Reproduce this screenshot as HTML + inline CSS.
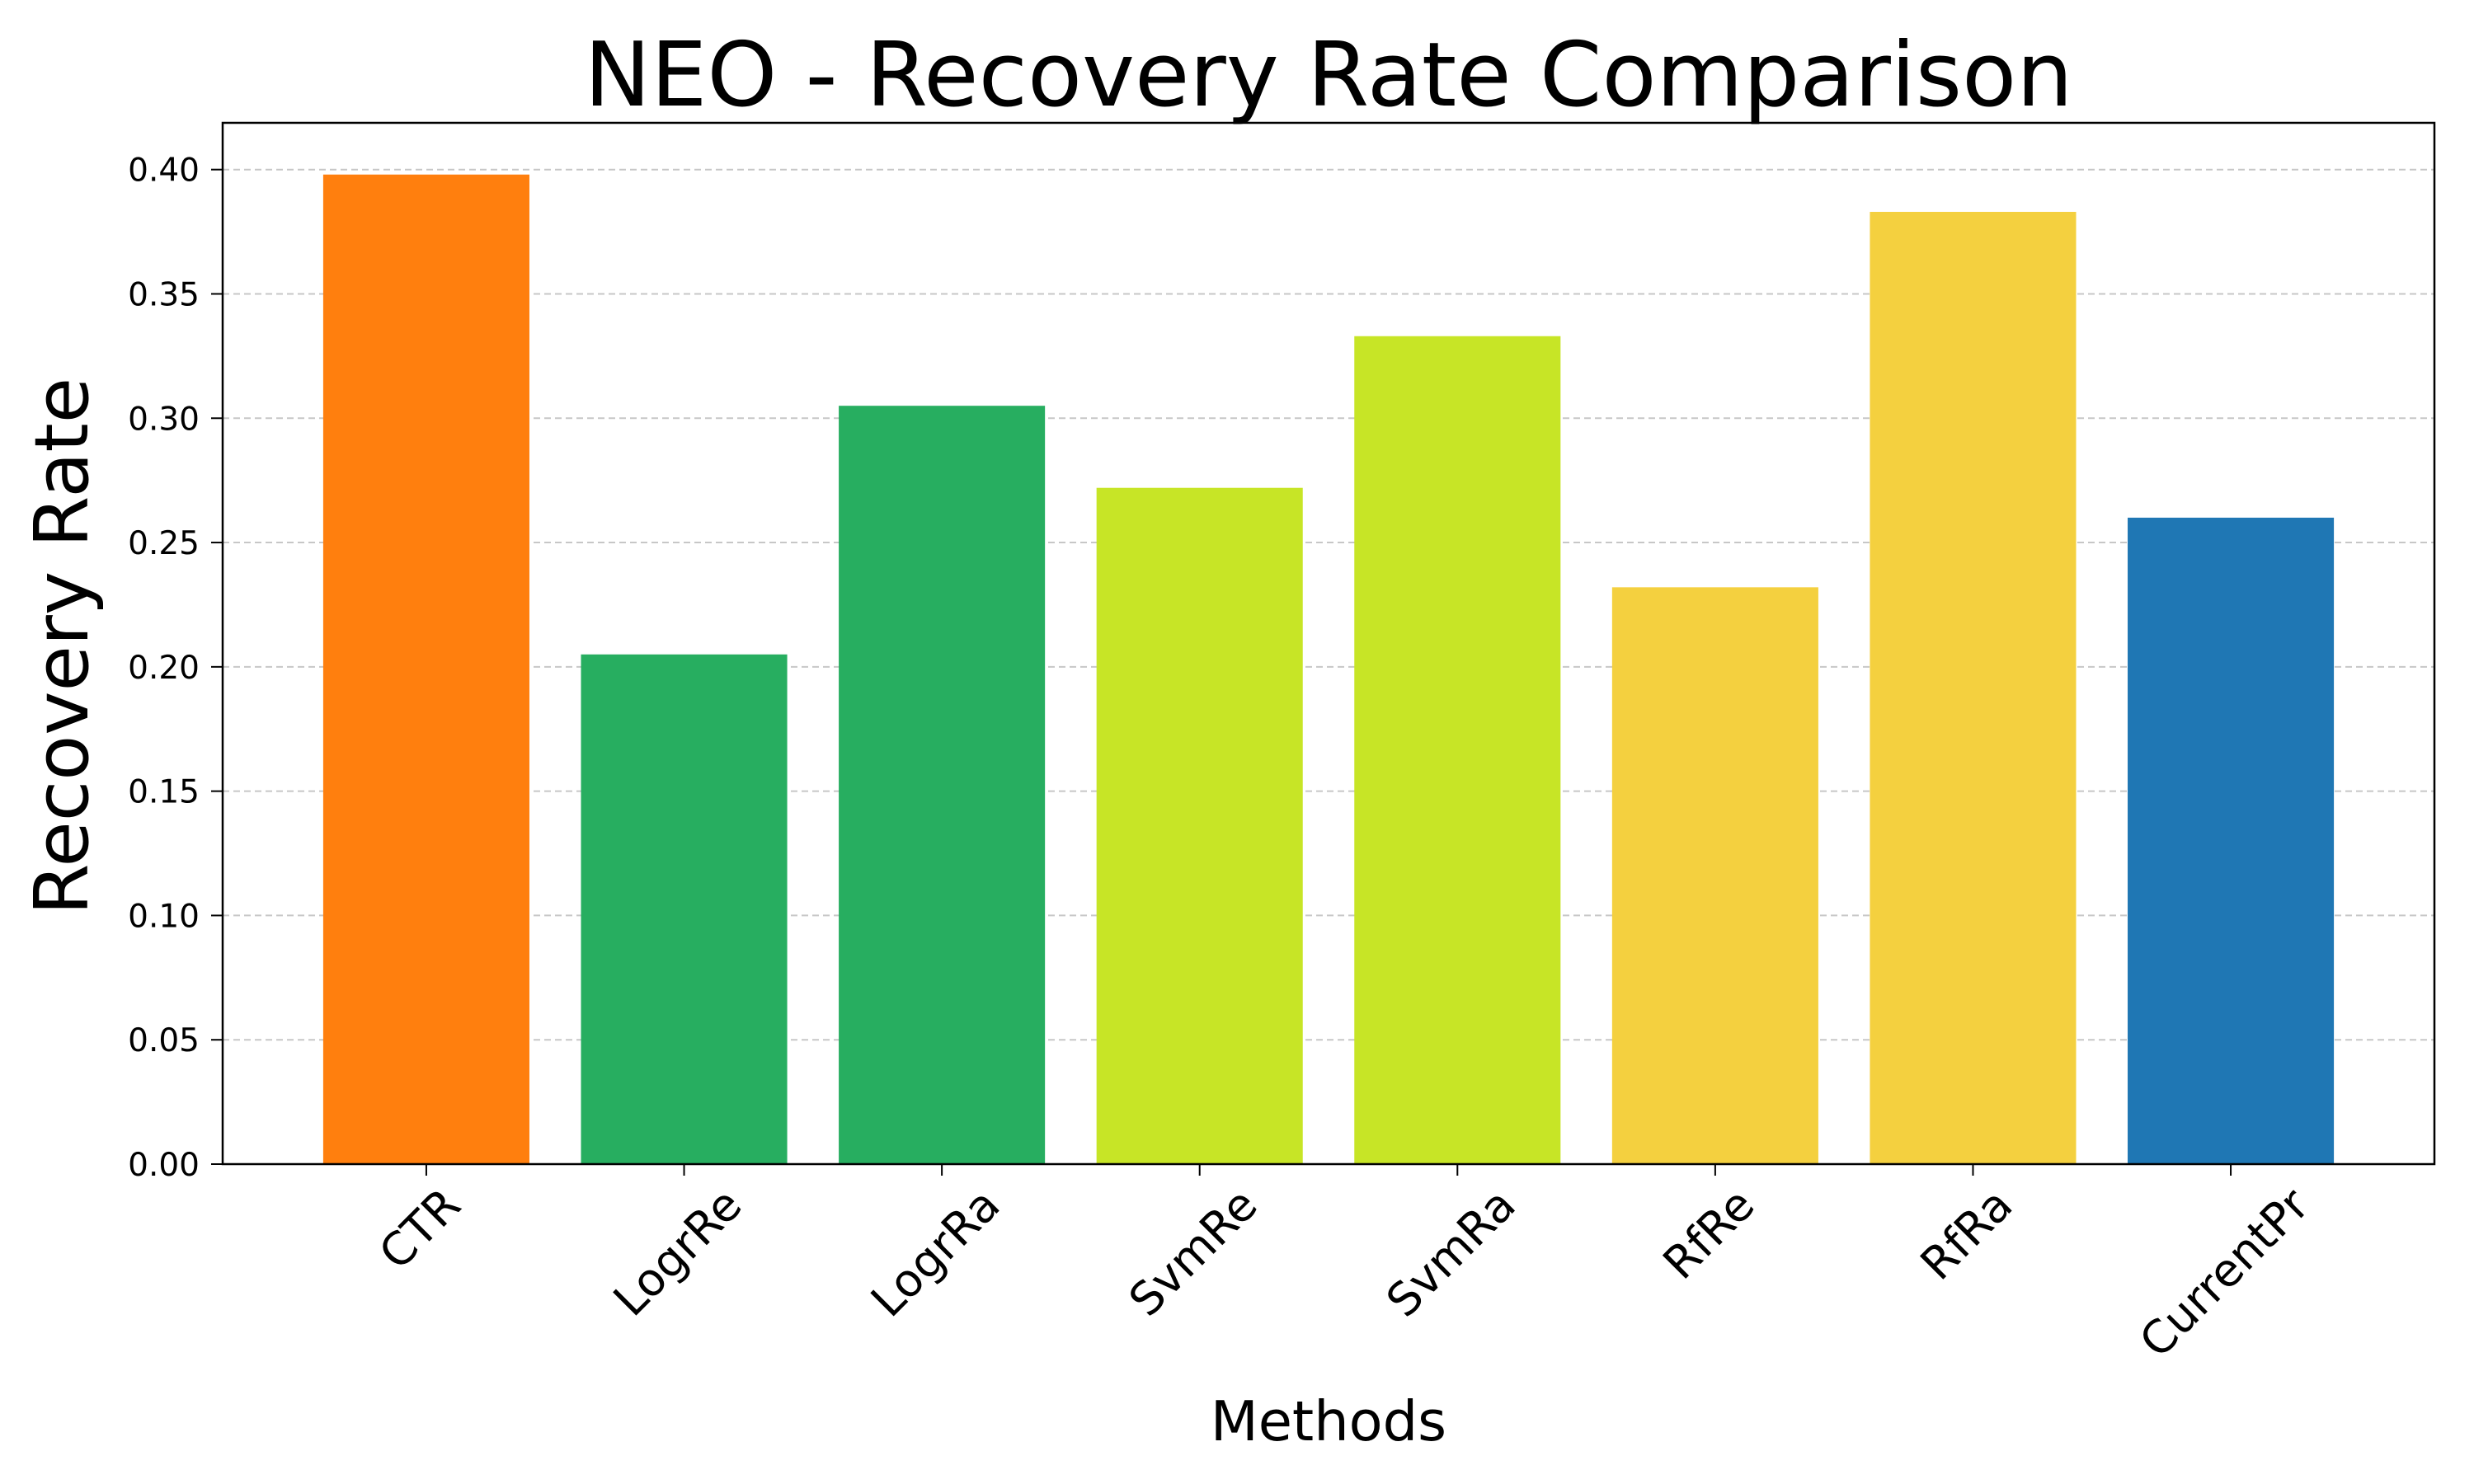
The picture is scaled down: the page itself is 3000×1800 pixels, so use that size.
<!DOCTYPE html>
<html><head><meta charset="utf-8"><style>
html,body{margin:0;padding:0;background:#fff;}
svg{display:block;font-family:"DejaVu Sans","Liberation Sans",sans-serif;}
</style></head><body>
<svg id="chart" width="3000" height="1800" viewBox="0 0 3000 1800">
<rect x="0" y="0" width="3000" height="1800" fill="#fff"/>
<g id="grid"></g><g id="bars"></g><g id="axes"></g>
<text x="1611" y="128" font-size="108" text-anchor="middle">NEO - Recovery Rate Comparison</text>
<text x="1611" y="1747" font-size="67" text-anchor="middle">Methods</text>
<text transform="translate(106,784) rotate(-90)" font-size="90" text-anchor="middle">Recovery Rate</text>
</svg>
<script>
const categories=["CTR","LogrRe","LogrRa","SvmRe","SvmRa","RfRe","RfRa","CurrentPr"];
const values=[0.398,0.205,0.305,0.272,0.333,0.232,0.383,0.260];
const colors=["#ff7f0e","#27ae60","#27ae60","#c7e526","#c7e526","#f4d03f","#f4d03f","#1f77b4"];
const yTicks=[0,0.05,0.1,0.15,0.2,0.25,0.3,0.35,0.4];
const yTickLabels=["0.00","0.05","0.10","0.15","0.20","0.25","0.30","0.35","0.40"];
const NS="http://www.w3.org/2000/svg";
const L=270,R=2952,T=149,B=1412;
const xmin=-0.79,xmax=7.79,ymin=0,ymax=0.4188;
const xs=v=>L+(v-xmin)/(xmax-xmin)*(R-L);
const ys=v=>B-(v-ymin)/(ymax-ymin)*(B-T);
function mk(tag,attrs,parent){const e=document.createElementNS(NS,tag);for(const k in attrs)e.setAttribute(k,attrs[k]);parent.appendChild(e);return e;}
const grid=document.getElementById('grid'),bars=document.getElementById('bars'),axes=document.getElementById('axes');
yTicks.forEach((t,i)=>{
 const y=ys(t);
 const g=mk('line',{x1:L,x2:R,y1:y,y2:y,stroke:'#b0b0b0','stroke-width':2,'stroke-dasharray':'8,5',opacity:0.7},grid);
 
 
 const tk=mk('line',{x1:L-14,x2:L,y1:y,y2:y,stroke:'#000','stroke-width':2},axes);
 
 
 const tx=mk('text',{x:L-28,y:y+14,'font-size':39,'text-anchor':'end'},axes);
 tx.textContent=yTickLabels[i];
 
 
});
categories.forEach((c,i)=>{
 const x0=xs(i-0.4),x1=xs(i+0.4),y=ys(values[i]);
 const r=mk('rect',{x:x0,y:y,width:x1-x0,height:B-y,fill:colors[i]},bars);
 
 
 const cx=xs(i);
 const tk=mk('line',{x1:cx,x2:cx,y1:B,y2:B+14,stroke:'#000','stroke-width':2},axes);
 
 
 const t=mk('text',{'font-size':55,'text-anchor':'middle','dominant-baseline':'central'},axes);
 t.textContent=c;
 
 
 const w=t.getComputedTextLength();
 const half=(w+55)*0.7071/2;
 const cy=B+20+half;
 t.setAttribute('transform','translate('+(cx-8)+','+cy+') rotate(-45)');
});
const fr=mk('rect',{x:L,y:T,width:R-L,height:B-T,fill:'none',stroke:'#000','stroke-width':2.5},axes);


</script>
</body></html>
